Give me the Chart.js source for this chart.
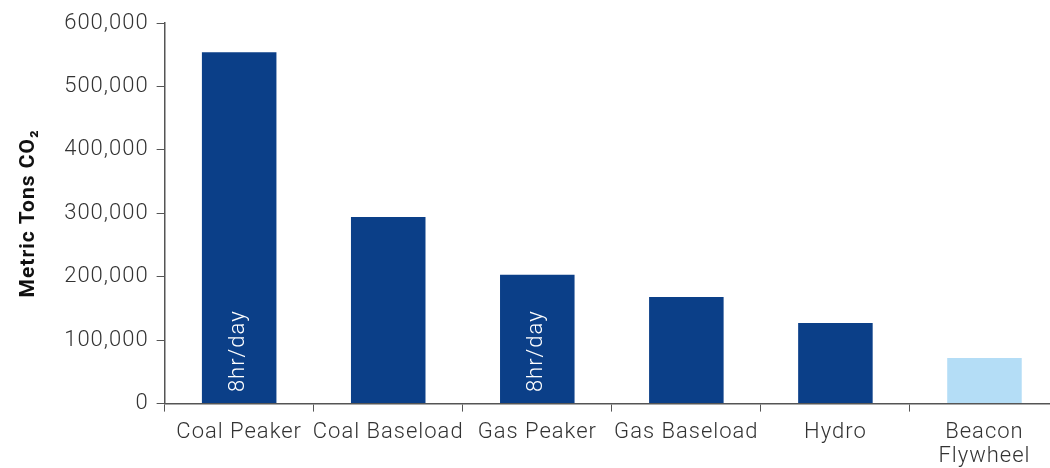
<!DOCTYPE html>
<html lang="en">
<head>
  <meta charset="UTF-8">
  <title>Metric Tons CO2</title>
  <script src="https://cdn.jsdelivr.net/npm/chart.js"></script>
  <style>
    html, body { margin: 0; padding: 0; background: #fff; overflow: hidden; }
    #container { width: 1062px; height: 478px; }
  </style>
</head>
<body>
<div id="container">
  <canvas id="co2Chart"></canvas>
</div>

<script>
  const categories = ['Coal Peaker', 'Coal Baseload', 'Gas Peaker', 'Gas Baseload', 'Hydro', ['Beacon', 'Flywheel']];
  const tonsCO2 = [554000, 294000, 203000, 168000, 127000, 72000];
  const barNotes = ['8hr/day', '', '8hr/day', '', '', ''];
  const yTicks = [0, 100000, 200000, 300000, 400000, 500000, 600000];

  const darkBlue = '#0b3f88';
  const lightBlue = '#b4ddf6';
  const textFont = "Roboto, 'Liberation Sans', sans-serif";

  // the original type is a wide light face, so loosen the tracking a bit
  const trackingPlugin = {
    id: 'tracking',
    beforeUpdate(chart) { chart.ctx.letterSpacing = '1px'; },
    beforeLayout(chart) { chart.ctx.letterSpacing = '1px'; },
    beforeDraw(chart) { chart.ctx.letterSpacing = '1px'; }
  };

  // white rotated note inside the peaker bars
  const barNotesPlugin = {
    id: 'barNotes',
    afterDatasetsDraw(chart) {
      const meta = chart.getDatasetMeta(0);
      const c = chart.ctx;
      c.save();
      c.fillStyle = '#ffffff';
      c.font = '300 22px ' + textFont;
      c.textAlign = 'left';
      c.textBaseline = 'middle';
      meta.data.forEach((bar, i) => {
        if (!barNotes[i]) return;
        c.save();
        c.translate(bar.x - 1, bar.base - 11);
        c.rotate(-Math.PI / 2);
        c.fillText(barNotes[i], 0, 0);
        c.restore();
      });
      c.restore();
    }
  };

  const ctx = document.getElementById('co2Chart').getContext('2d');

  new Chart(ctx, {
    type: 'bar',
    data: {
      labels: categories,
      datasets: [{
        data: tonsCO2,
        backgroundColor: tonsCO2.map((v, i) => i === tonsCO2.length - 1 ? lightBlue : darkBlue),
        barPercentage: 0.5,
        categoryPercentage: 1.0
      }]
    },
    options: {
      responsive: true,
      maintainAspectRatio: false,
      animation: false,
      layout: { padding: { top: 23, left: 16, right: 3, bottom: 0 } },
      plugins: {
        legend: { display: false },
        tooltip: { enabled: false }
      },
      scales: {
        x: {
          grid: {
            display: true,
            drawOnChartArea: false,
            offset: true,
            color: '#555',
            tickLength: 8
          },
          border: { color: '#555', width: 1.5 },
          ticks: {
            color: '#333',
            font: { family: textFont, size: 22, weight: 300, lineHeight: 1.1 },
            maxRotation: 0,
            autoSkip: false,
            padding: 9
          }
        },
        y: {
          min: 0,
          max: 600000,
          afterBuildTicks(axis) {
            axis.ticks = yTicks.map(v => ({ value: v }));
          },
          grid: {
            display: true,
            drawOnChartArea: false,
            color: '#555',
            tickLength: 8
          },
          border: { color: '#555', width: 1.5 },
          ticks: {
            color: '#333',
            font: { family: textFont, size: 22, weight: 300 },
            padding: 8,
            callback: v => v.toLocaleString('en-US')
          },
          title: {
            display: true,
            text: 'Metric Tons CO₂',
            color: '#111',
            font: { family: textFont, size: 21, weight: 'bold' },
            padding: { top: 0, bottom: 15 }
          }
        }
      }
    },
    plugins: [trackingPlugin, barNotesPlugin]
  });
</script>
</body>
</html>
